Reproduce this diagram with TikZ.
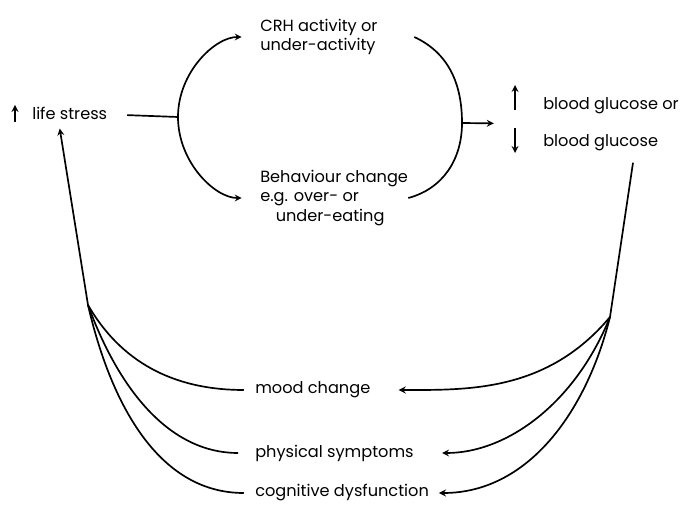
\documentclass[tikz,border=0pt]{standalone}
\usepackage{fontspec}
\setmainfont{Poppins}
\usepackage{tikz}

\begin{document}
\begin{tikzpicture}[x=0.025cm, y=0.025cm, font=\fontsize{11.5}{14}\selectfont,
    every node/.style={inner sep=0pt, align=left, anchor=west},
    link/.style={black, line width=1.2pt},
    flow/.style={link, -stealth}]
    \useasboundingbox (0,0) rectangle (689,505);
    \node (stress) at (32,392) {life stress};
    \node (crh) at (260,468) {CRH activity or\\under-activity};
    \node (behav) at (260,307) {Behaviour change\\e.g. over- or\\\hspace*{11pt}under-eating};
    \node (glucose) at (543,381) {blood glucose or\\[12pt]blood glucose};
    \node (mood) at (255,115) {mood change};
    \node (phys) at (255,52) {physical symptoms};
    \node (cog) at (255,12) {cognitive dysfunction};
    \coordinate (jl) at (178,388);
    \coordinate (jr) at (462,382);
    \coordinate (bl) at (88,200);
    \coordinate (br) at (610,188);
    % up and down marks
    \draw [flow] ([shift={(-17,-9)}]stress.west) -- ++(0,17);
    \draw [flow] ([shift={(-28,14)}]glucose.west) -- ++(0,25);
    \draw [flow] ([shift={(-28,-4)}]glucose.west) -- ++(0,-25);
    % top half
    \draw [link, shorten <=14pt] (stress) -- (jl);
    \draw [flow, shorten >=13pt] (jl) to[out=90, in=180] (crh.west);
    \draw [flow, shorten >=13pt] (jl) to[out=-90, in=180] (behav.west);
    \draw [link] ([xshift=26pt]crh.east) to[out=-25, in=90] (jr);
    \draw [link] (behav.east) to[out=15, in=-90] (jr);
    \draw [flow, shorten >=35pt] (jr) -- (glucose.west);
    % feedback to life stress
    \draw [link] ([shift={(22,-12)}]glucose.south) -- (br);
    \draw [flow, shorten >=20pt] (br) to[out=-130, in=0] (mood.east);
    \draw [flow, shorten >=20pt] (br) to[out=-112, in=0] (phys.east);
    \draw [flow, shorten >=7pt] (br) to[out=-104, in=0] (cog.east);
    \draw [link, shorten <=8pt] (mood.west) to[out=180, in=-60] (bl);
    \draw [link, shorten <=12pt] (phys.west) to[out=180, in=-70] (bl);
    \draw [link, shorten <=8pt] (cog.west) to[out=180, in=-77] (bl);
    \draw [flow] (bl) -- ([shift={(-10,-9)}]stress.south);
\end{tikzpicture}
\end{document}
